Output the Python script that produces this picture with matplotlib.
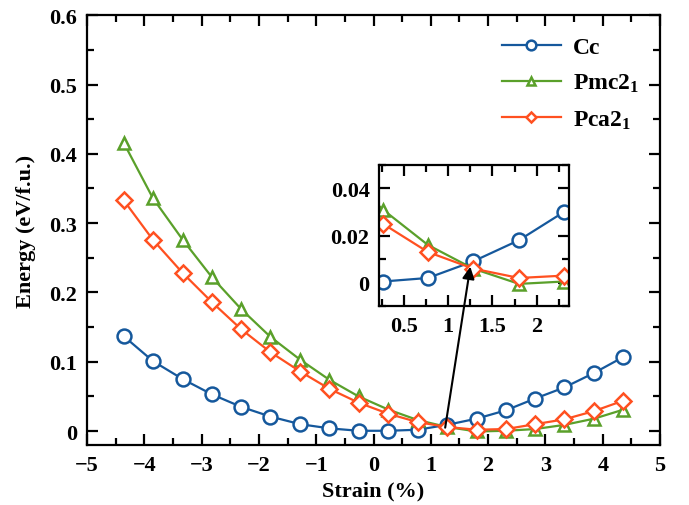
import matplotlib
matplotlib.use('Agg')
import matplotlib.pyplot as plt
from matplotlib.ticker import MultipleLocator, FuncFormatter

plt.rcParams['font.family'] = ['Liberation Serif', 'DejaVu Serif']
plt.rcParams['font.weight'] = 'bold'
plt.rcParams['mathtext.fontset'] = 'custom'
plt.rcParams['mathtext.rm'] = 'Liberation Serif:bold'
plt.rcParams['mathtext.bf'] = 'Liberation Serif:bold'
plt.rcParams['mathtext.default'] = 'bf'

# data
strain = [-4.36, -3.85, -3.33, -2.82, -2.31, -1.80, -1.28, -0.77, -0.26,
          0.26, 0.77, 1.28, 1.80, 2.31, 2.82, 3.33, 3.85, 4.36]
cc = [0.137, 0.101, 0.075, 0.053, 0.035, 0.021, 0.010, 0.004, 0.0005,
      0.0005, 0.002, 0.009, 0.018, 0.030, 0.047, 0.063, 0.084, 0.107]
pmc = [0.416, 0.336, 0.276, 0.222, 0.176, 0.136, 0.103, 0.074, 0.050,
       0.031, 0.016, 0.006, -0.0005, 0.0005, 0.003, 0.009, 0.018, 0.031]
pca = [0.333, 0.276, 0.228, 0.186, 0.147, 0.114, 0.086, 0.061, 0.041,
       0.025, 0.013, 0.006, 0.002, 0.003, 0.010, 0.017, 0.029, 0.044]
labels = ['Cc', 'Pmc2$_1$', 'Pca2$_1$']
colors = ['#15589C', '#5AA02A', '#FF5020']
markers = ['o', '^', 'D']
msizes = [10, 9, 8]


def fmt(v, pos):
    return ('%g' % round(v, 4)).replace('-', '\u2212')


def style_axes(a, fs):
    for s in a.spines.values():
        s.set_linewidth(1.6)
    a.tick_params(which='both', direction='in', top=True, right=True,
                  width=1.6, labelsize=fs, pad=7)
    a.tick_params(which='major', length=8)
    a.tick_params(which='minor', length=5)
    a.xaxis.set_major_formatter(FuncFormatter(fmt))
    a.yaxis.set_major_formatter(FuncFormatter(fmt))


fig = plt.figure(figsize=(6.89, 5.06), dpi=100)
ax = fig.add_axes([0.1263, 0.1186, 0.8317, 0.8494])

series = [cc, pmc, pca]
for y, lab, c, m, ms in zip(series, labels, colors, markers, msizes):
    ax.plot(strain, y, color=c, lw=1.6, marker=m, ms=ms, mfc='white',
            mec=c, mew=1.8, label=lab)

ax.set_xlim(-5, 5)
ax.set_ylim(-0.02, 0.6)
ax.xaxis.set_major_locator(MultipleLocator(1))
ax.xaxis.set_minor_locator(MultipleLocator(0.5))
ax.yaxis.set_major_locator(MultipleLocator(0.1))
ax.yaxis.set_minor_locator(MultipleLocator(0.05))
style_axes(ax, 16)
ax.set_xlabel('Strain (%)', fontsize=16, fontweight='bold', labelpad=4)
ax.set_ylabel('Energy (eV/f.u.)', fontsize=16, fontweight='bold', labelpad=10)

leg = ax.legend(loc='upper right', frameon=False, fontsize=17,
                handlelength=2.5, labelspacing=0.6, markerscale=0.7,
                borderaxespad=0.5, handletextpad=0.5)

# inset
axins = fig.add_axes([0.5505, 0.3927, 0.2758, 0.2798])
for y, c, m, ms in zip(series, colors, markers, msizes):
    axins.plot(strain, y, color=c, lw=1.6, marker=m, ms=ms, mfc='white',
               mec=c, mew=1.8)
axins.set_xlim(0.22, 2.37)
axins.set_ylim(-0.01, 0.05)
axins.xaxis.set_major_locator(MultipleLocator(0.5))
axins.xaxis.set_minor_locator(MultipleLocator(0.25))
axins.yaxis.set_major_locator(MultipleLocator(0.02))
axins.yaxis.set_minor_locator(MultipleLocator(0.01))
style_axes(axins, 16)

axins.annotate('', xy=(1.25, 0.0068), xycoords=axins.transData,
               xytext=(1.25, 0.005), textcoords=ax.transData,
               arrowprops=dict(arrowstyle='-|>', color='black', lw=1.5,
                               mutation_scale=18, shrinkA=0, shrinkB=0),
               annotation_clip=False)

fig.savefig('out.png', dpi=100)
